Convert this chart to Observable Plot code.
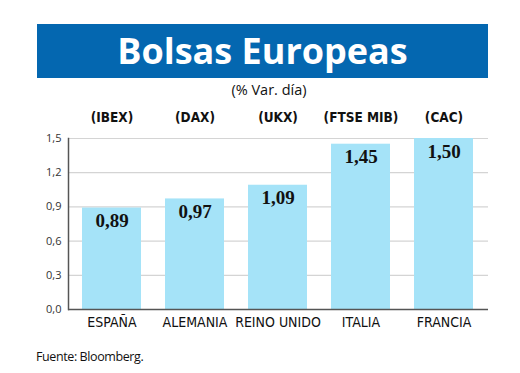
<!DOCTYPE html>
<html><head><meta charset="utf-8">
<script src="https://cdn.jsdelivr.net/npm/d3@7"></script>
<script src="https://cdn.jsdelivr.net/npm/@observablehq/plot@0.6"></script>
<style>
body{margin:0;background:#fff;}
#wrap{position:relative;width:520px;height:373px;overflow:hidden;background:#fff;}
#banner{position:absolute;left:37px;top:24px;width:451px;height:54px;background:#0467b0;color:#fff;
 font-family:"Open Sans",sans-serif;font-weight:700;font-size:36px;line-height:54px;text-align:center;letter-spacing:0px;}
#sub{position:absolute;left:0;width:538px;top:80px;text-align:center;font-family:"Open Sans",sans-serif;font-size:14.5px;color:#111;}
#chart{position:absolute;left:0;top:100px;}
#foot{position:absolute;left:36px;top:348px;font-family:"Open Sans",sans-serif;font-size:12.5px;color:#111;letter-spacing:-0.4px;}
</style></head>
<body><div id="wrap">
<div id="banner">Bolsas Europeas</div>
<div id="sub">(% Var. día)</div>
<div id="chart"></div>
<div id="foot">Fuente: Bloomberg.</div>
</div>
<script>
const countries = ["ESPAÑA","ALEMANIA","REINO UNIDO","ITALIA","FRANCIA"];
const indices = ["(IBEX)","(DAX)","(UKX)","(FTSE MIB)","(CAC)"];
const values = [0.89, 0.97, 1.09, 1.45, 1.50];
const yTicks = [0, 0.3, 0.6, 0.9, 1.2, 1.5];

const data = countries.map((c,i)=>({country:c, index:indices[i], value:values[i]}));
const comma = v => d3.format(".1f")(v).replace(".", ",");
const comma2 = v => d3.format(".2f")(v).replace(".", ",");

const plot = Plot.plot({
  width: 520, height: 240,
  marginLeft: 68, marginRight: 32, marginTop: 38, marginBottom: 31,
  x: {domain: countries, paddingInner: 0.2857, paddingOuter: 0.143, label: null},
  y: {domain: [0, 1.5], label: null},
  style: {background: "transparent"},
  marks: [
    Plot.gridY(yTicks, {stroke: "#d4d4d4", strokeOpacity: 1, strokeWidth: 1.2}),
    Plot.barY(data, {x: "country", y: "value", fill: "#a5e3f8"}),
    Plot.ruleY([0], {stroke: "#555", strokeWidth: 1.5}),
    Plot.frame({anchor: "left", stroke: "#555", strokeWidth: 1.5}),
    Plot.axisY({ticks: yTicks, tickFormat: comma, tickSize: 0, tickPadding: 7, fontSize: 11, fontFamily: "Open Sans", fill: "#333"}),
    Plot.axisX({anchor: "bottom", tickSize: 0, tickPadding: 8, fontSize: 14, fontFamily: "DejaVu Sans Condensed, DejaVu Sans", fill: "#111", label: null}),
    Plot.axisX({anchor: "top", tickSize: 0, tickPadding: 17, tickFormat: d => indices[countries.indexOf(d)], fontSize: 13.5, fontWeight: "bold", fontFamily: "DejaVu Sans Condensed, DejaVu Sans", fill: "#111", label: null}),
    Plot.text(data, {x: "country", y: "value", text: d => comma2(d.value), dy: 13, fontSize: 19, fontWeight: "bold", fontFamily: "Liberation Serif", fill: "#111"})
  ]
});
document.getElementById("chart").appendChild(plot);
</script>
</body></html>
